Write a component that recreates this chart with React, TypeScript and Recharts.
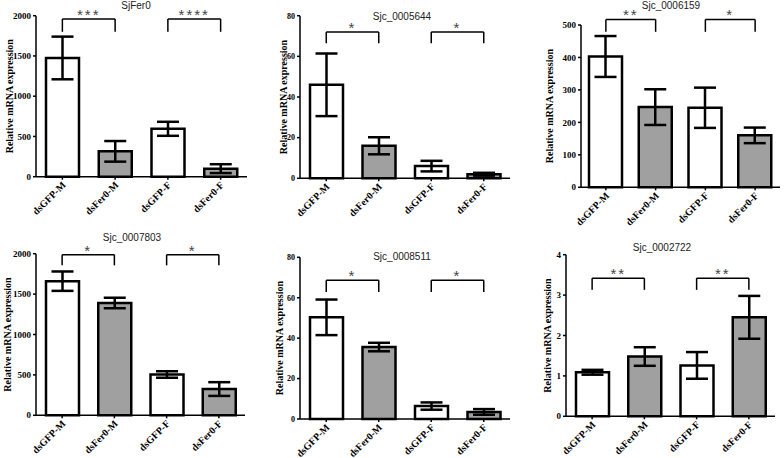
import { BarChart, Bar, Cell, XAxis, YAxis, ErrorBar, ReferenceLine } from 'recharts'

const groups = ['dsGFP-M', 'dsFer0-M', 'dsGFP-F', 'dsFer0-F']
const groupFills = ['#ffffff', '#a0a0a0', '#ffffff', '#a0a0a0']

const titles = ['SjFer0', 'Sjc_0005644', 'Sjc_0006159', 'Sjc_0007803', 'Sjc_0008511', 'Sjc_0002722']

const sjFer0Mean = [1475, 315, 595, 100]
const sjFer0Err = [265, 128, 87, 55]
const sjc5644Mean = [46, 16, 6, 2]
const sjc5644Err = [15.4, 4.2, 2.6, 0.7]
const sjc6159Mean = [403, 247, 245, 160]
const sjc6159Err = [63, 55, 62, 24]
const sjc7803Mean = [1660, 1390, 505, 325]
const sjc7803Err = [120, 65, 40, 85]
const sjc8511Mean = [50.3, 35.6, 6.4, 3.5]
const sjc8511Err = [8.8, 2.1, 1.8, 1.4]
const sjc2722Mean = [1.09, 1.48, 1.26, 2.45]
const sjc2722Err = [0.06, 0.23, 0.33, 0.53]

const ticks1 = [0, 500, 1000, 1500, 2000]
const ticks2 = [0, 20, 40, 60, 80]
const ticks3 = [0, 100, 200, 300, 400, 500]
const ticks6 = [0, 1, 2, 3, 4]

// bracket: top value and leg bottom value, shared by male pair and female pair
const bracketTop = [1960, 72, 517, 1988, 68.6, 3.42]
const bracketLeg = [1800, 66.5, 479, 1856, 62.8, 3.13]
const starsMale = ['***', '*', '**', '*', '*', '**']
const starsFemale = ['****', '*', '*', '*', '*', '**']

const means = [sjFer0Mean, sjc5644Mean, sjc6159Mean, sjc7803Mean, sjc8511Mean, sjc2722Mean]
const errs = [sjFer0Err, sjc5644Err, sjc6159Err, sjc7803Err, sjc8511Err, sjc2722Err]
const tickSets = [ticks1, ticks2, ticks3, ticks1, ticks2, ticks6]

// layout of each panel in page pixels
const layout = [
  { left: 0, top: 0, w: 260, h: 228, axisX: 36, plotRight: 247, plotTop: 15.7, plotBottom: 176.7, labelX: 9, titleX: 136, titleY: 6, tickFont: 9 },
  { left: 260, top: 0, w: 260, h: 228, axisX: 300, plotRight: 510, plotTop: 15.7, plotBottom: 178.3, labelX: 23.5, titleX: 402, titleY: 16.7, tickFont: 8 },
  { left: 520, top: 0, w: 264, h: 228, axisX: 581, plotRight: 780, plotTop: 25, plotBottom: 187.3, labelX: 29, titleX: 671, titleY: 6, tickFont: 9 },
  { left: 0, top: 228, w: 260, h: 230, axisX: 36, plotRight: 245, plotTop: 253.7, plotBottom: 415.3, labelX: 7, titleX: 132, titleY: 238, tickFont: 9 },
  { left: 260, top: 228, w: 260, h: 230, axisX: 300, plotRight: 510, plotTop: 257.3, plotBottom: 419, labelX: 19, titleX: 402, titleY: 257, tickFont: 8 },
  { left: 520, top: 228, w: 264, h: 230, axisX: 566, plotRight: 775, plotTop: 254.7, plotBottom: 416.3, labelX: 27, titleX: 662, titleY: 248, tickFont: 9 },
]

const serif = '"Liberation Serif", "Times New Roman", serif'
const sans = '"Liberation Sans", Arial, sans-serif'

function XTick({ x, y, payload }: any) {
  const ax = x + 4
  const ay = y + 4
  return (
    <text
      x={ax}
      y={ay}
      transform={`rotate(-45 ${ax} ${ay})`}
      textAnchor="end"
      fontFamily={serif}
      fontWeight="bold"
      fontSize={10}
      fill="#000"
    >
      {payload.value}
    </text>
  )
}

function Bracket({ a, b, top, leg, stars }: { a: string; b: string; top: number; leg: number; stars: string }) {
  return [
    <ReferenceLine
      key={a + 'h'}
      segment={[{ x: a, y: top }, { x: b, y: top }]}
      ifOverflow="visible"
      stroke="#000"
      strokeWidth={1.5}
      label={{ value: stars, position: 'top', offset: -1, fontSize: 15, fontFamily: sans, fill: '#444', letterSpacing: 2 }}
    />,
    <ReferenceLine key={a + 'l'} segment={[{ x: a, y: top }, { x: a, y: leg }]} ifOverflow="visible" stroke="#000" strokeWidth={1.5} />,
    <ReferenceLine key={a + 'r'} segment={[{ x: b, y: top }, { x: b, y: leg }]} ifOverflow="visible" stroke="#000" strokeWidth={1.5} />,
  ]
}

function Panel({ idx }: { idx: number }) {
  const L = layout[idx]
  const ticks = tickSets[idx]
  const data = groups.map((g, i) => ({ group: g, mean: means[idx][i], err: errs[idx][i] }))
  const yAxisW = L.axisX - L.left
  const xAxisH = L.h - (L.plotBottom - L.top)
  return (
    <div style={{ position: 'absolute', left: L.left, top: L.top, width: L.w, height: L.h }}>
      <BarChart
        width={L.w}
        height={L.h}
        data={data}
        style={{ overflow: 'visible' }}
        margin={{ top: L.plotTop - L.top, right: L.left + L.w - L.plotRight, bottom: 0, left: 0 }}
      >
        <XAxis
          dataKey="group"
          height={xAxisH}
          interval={0}
          tick={<XTick />}
          tickSize={3}
          tickMargin={2}
          axisLine={{ stroke: '#000', strokeWidth: 1.5 }}
          tickLine={{ stroke: '#000', strokeWidth: 1.5 }}
        />
        <YAxis
          width={yAxisW}
          domain={[ticks[0], ticks[ticks.length - 1]]}
          ticks={ticks}
          interval={0}
          tickSize={3}
          tickMargin={2}
          axisLine={{ stroke: '#000', strokeWidth: 1.5 }}
          tickLine={{ stroke: '#000', strokeWidth: 1.5 }}
          tick={{ fill: '#000', fontSize: L.tickFont, fontFamily: serif, fontWeight: 'bold' }}
          label={{
            value: 'Relative mRNA expression',
            angle: -90,
            position: 'insideLeft',
            offset: L.labelX,
            style: { textAnchor: 'middle', fill: '#000', fontSize: 10, fontFamily: serif, fontWeight: 'bold' },
          }}
        />
        <Bar dataKey="mean" barSize={33} stroke="#000" strokeWidth={2.5} isAnimationActive={false}>
          {data.map((d, i) => (
            <Cell key={d.group} fill={groupFills[i]} />
          ))}
          <ErrorBar dataKey="err" direction="y" width={11} stroke="#000" strokeWidth={2.5} isAnimationActive={false} />
        </Bar>
        {Bracket({ a: groups[0], b: groups[1], top: bracketTop[idx], leg: bracketLeg[idx], stars: starsMale[idx] })}
        {Bracket({ a: groups[2], b: groups[3], top: bracketTop[idx], leg: bracketLeg[idx], stars: starsFemale[idx] })}
      </BarChart>
    </div>
  )
}

export default function App() {
  return (
    <div style={{ position: 'absolute', left: 0, top: 0, width: 784, height: 458, background: '#fff', overflow: 'hidden' }}>
      {layout.map((L, i) => (
        <Panel key={titles[i]} idx={i} />
      ))}
      {layout.map((L, i) => (
        <div
          key={'t' + i}
          style={{
            position: 'absolute',
            left: L.titleX - 60,
            top: L.titleY - 6,
            width: 120,
            textAlign: 'center',
            fontFamily: sans,
            fontSize: 10,
            lineHeight: '12px',
            color: '#222',
          }}
        >
          {titles[i]}
        </div>
      ))}
    </div>
  )
}
